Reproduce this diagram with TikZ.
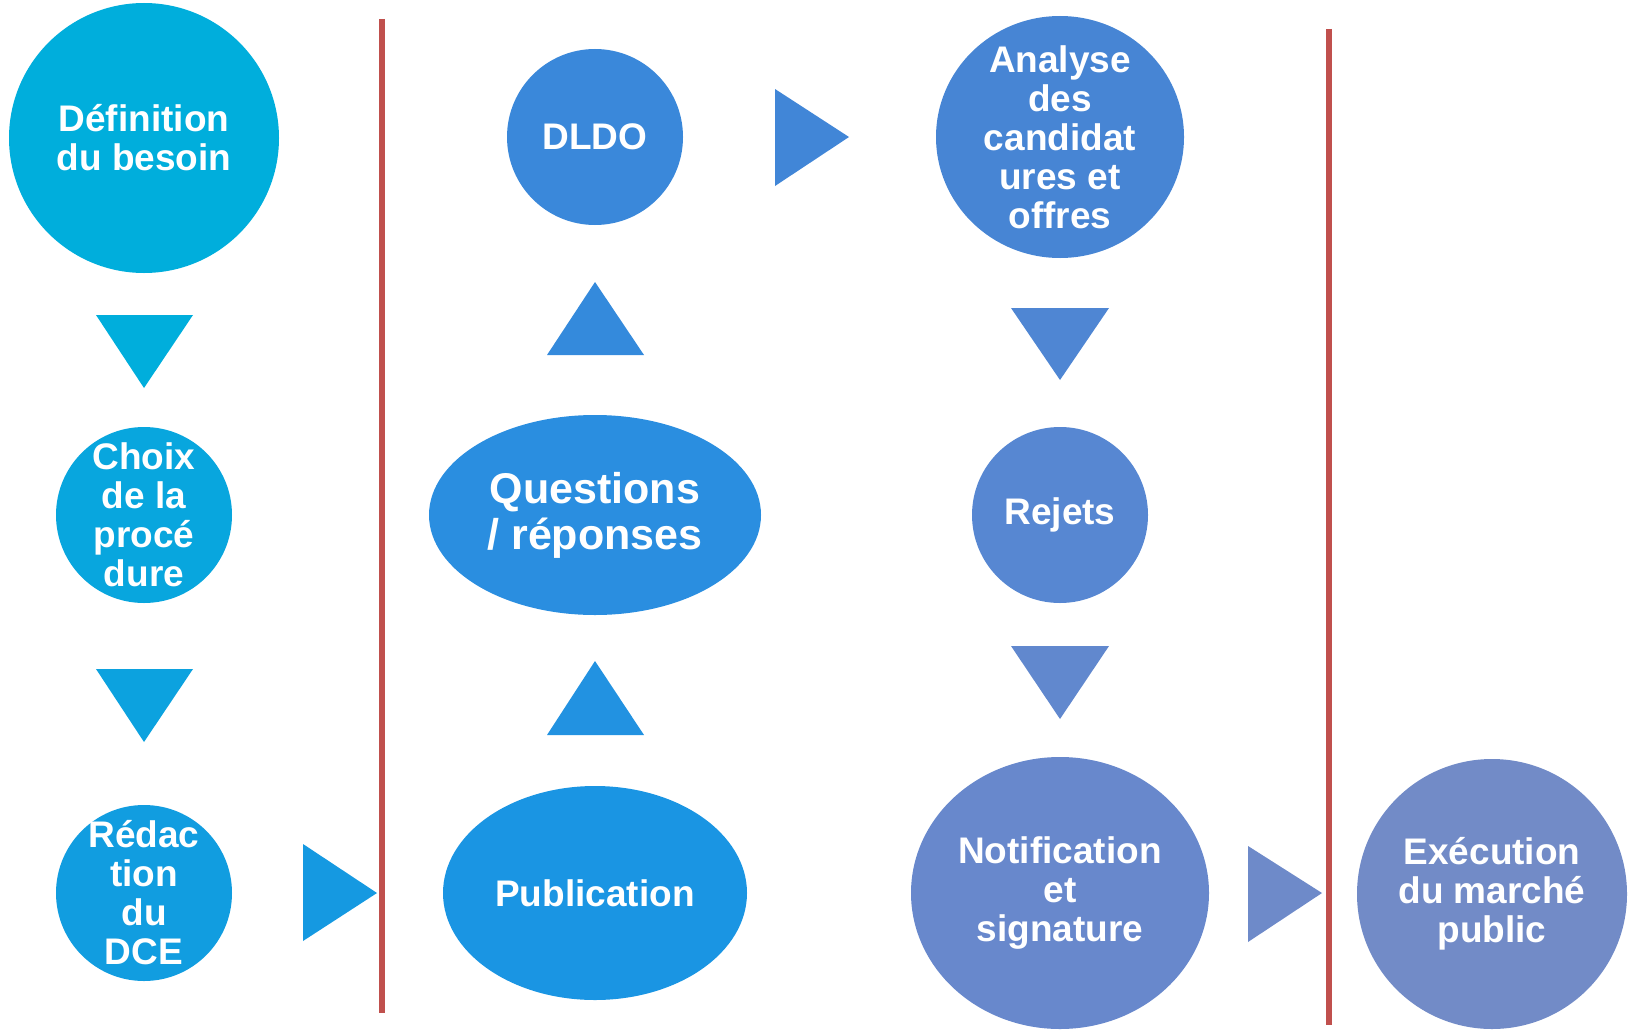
\documentclass[tikz,border=0pt]{standalone}
\usepackage{fontspec}
\setmainfont{Liberation Sans}
\usetikzlibrary{shapes.geometric}

\definecolor{defcol}{HTML}{00AEDC}
\definecolor{choixcol}{HTML}{08A6DE}
\definecolor{redaccol}{HTML}{119DE0}
\definecolor{pubcol}{HTML}{1A95E3}
\definecolor{questcol}{HTML}{2A8EE0}
\definecolor{dldocol}{HTML}{3A88DA}
\definecolor{anacol}{HTML}{4785D4}
\definecolor{rejcol}{HTML}{5787D2}
\definecolor{notifcol}{HTML}{6888CC}
\definecolor{execcol}{HTML}{728BC7}
\definecolor{wallred}{HTML}{C0504D}

\begin{document}
\begin{tikzpicture}[x=1pt,y=-1pt]
    \tikzstyle{bubble}=[ellipse,inner sep=0pt]
    \tikzstyle{words}=[text=white,font=\bfseries\fontsize{37}{39}\selectfont,align=center,inner sep=0pt]
    \tikzstyle{wall}=[draw=wallred,line width=6pt]

    \useasboundingbox (0,0) rectangle (1629,1033);

    % Separators
    \draw[wall] (382,19) -- (382,1013);
    \draw[wall] (1329,29) -- (1329,1025);

    % Bubbles
    \node[bubble,fill=defcol,minimum width=270pt,minimum height=270pt] (def) at (144,138) {};
    \node[bubble,fill=choixcol,minimum width=176pt,minimum height=176pt] (choix) at (144,515) {};
    \node[bubble,fill=redaccol,minimum width=176pt,minimum height=176pt] (redac) at (144,893) {};
    \node[bubble,fill=pubcol,minimum width=304pt,minimum height=214pt] (pub) at (595,893) {};
    \node[bubble,fill=questcol,minimum width=332pt,minimum height=200pt] (quest) at (595,515) {};
    \node[bubble,fill=dldocol,minimum width=176pt,minimum height=176pt] (dldo) at (595,137) {};
    \node[bubble,fill=anacol,minimum width=248pt,minimum height=242pt] (ana) at (1060,137) {};
    \node[bubble,fill=rejcol,minimum width=176pt,minimum height=176pt] (rej) at (1060,515) {};
    \node[bubble,fill=notifcol,minimum width=298pt,minimum height=272pt] (notif) at (1060,893) {};
    \node[bubble,fill=execcol,minimum width=270pt,minimum height=270pt] (exec) at (1492,894) {};

    % Texts
    \node[words] (def-t) at (def) {Définition\\du besoin};
    \node[words] (choix-t) at (choix) {Choix\\de la\\procé\\dure};
    \node[words] (redac-t) at (redac) {Rédac\\tion\\du\\DCE};
    \node[words] (pub-t) at (pub) {Publication};
    \node[words,font=\bfseries\fontsize{43}{46}\selectfont] (quest-t) at (quest) {Questions\\/ réponses};
    \node[words] (dldo-t) at (dldo) {DLDO};
    \node[words] (ana-t) at (ana) {Analyse\\des\\candidat\\ures et\\offres};
    \node[words] (rej-t) at (rej) {Rejets};
    \node[words] (notif-t) at (notif) {Notification\\et\\signature};
    \node[words] (exec-t) at (exec) {Exécution\\du marché\\public};

    % Triangles
    \fill[defcol!97!choixcol] (96,315) -- (193,315) -- (144,388) -- cycle;
    \fill[choixcol!60!redaccol] (96,669) -- (193,669) -- (144,742) -- cycle;
    \fill[redaccol!50!pubcol] (303,844) -- (303,941) -- (377,893) -- cycle;
    \fill[pubcol!50!questcol] (547,735) -- (644,735) -- (595,661) -- cycle;
    \fill[questcol!40!dldocol] (547,355) -- (644,355) -- (595,282) -- cycle;
    \fill[dldocol!50!anacol] (775,89) -- (775,186) -- (849,137) -- cycle;
    \fill[anacol!50!rejcol] (1011,308) -- (1109,308) -- (1060,380) -- cycle;
    \fill[rejcol!40!notifcol] (1011,646) -- (1109,646) -- (1060,719) -- cycle;
    \fill[notifcol!40!execcol] (1248,846) -- (1248,942) -- (1322,893) -- cycle;
\end{tikzpicture}
\end{document}
